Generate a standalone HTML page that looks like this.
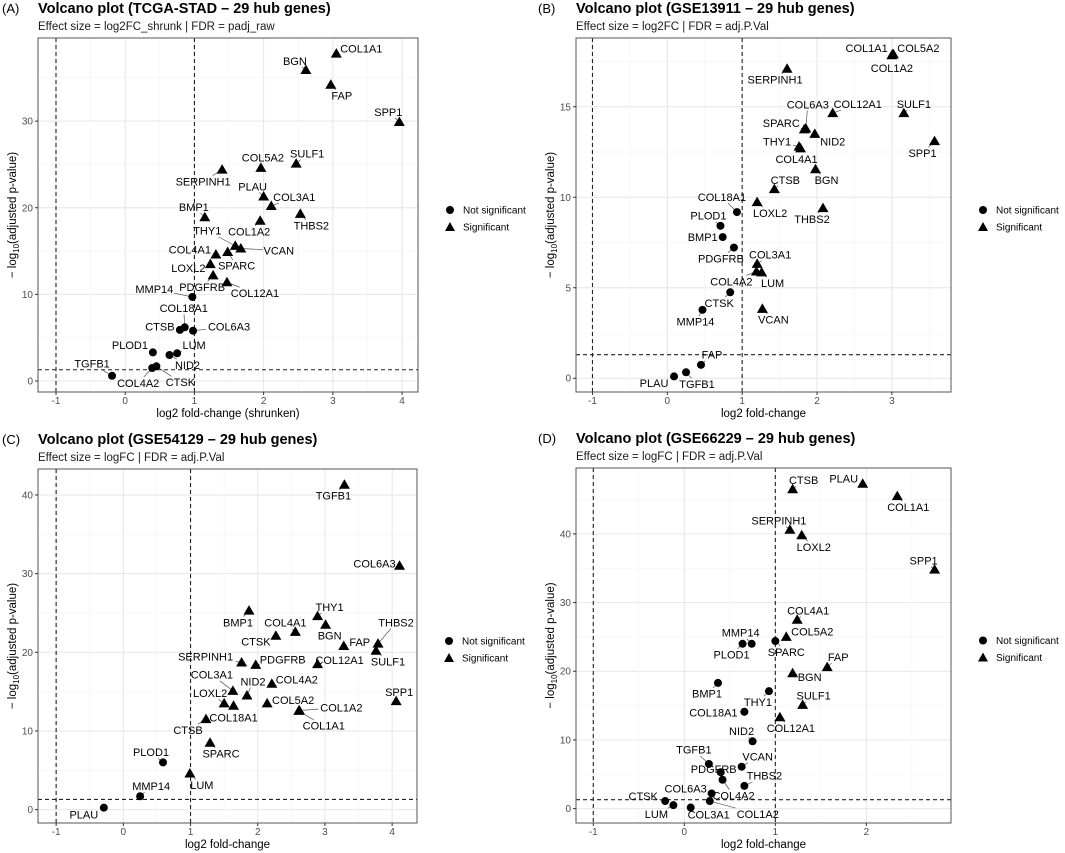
<!DOCTYPE html>
<html><head><meta charset="utf-8">
<style>
html,body{margin:0;padding:0;background:#fff;}
svg{display:block;font-family:"Liberation Sans",Arial,sans-serif;}
</style></head>
<body>
<svg id="chart" width="1065" height="853" viewBox="0 0 1065 853" xmlns="http://www.w3.org/2000/svg"></svg>
<script>
// ---------- Panel A data ----------
const genesA = ["COL1A1","BGN","FAP","SPP1","SULF1","COL5A2","SERPINH1","PLAU","COL3A1","BMP1","COL1A2","THBS2","THY1","VCAN","COL4A1","SPARC","LOXL2","PDGFRB","COL12A1","MMP14","COL18A1","CTSB","COL6A3","PLOD1","LUM","NID2","COL4A2","CTSK","TGFB1"];
const fcA = [3.05,2.61,2.97,3.96,2.47,1.96,1.40,2.00,2.11,1.15,1.95,2.53,1.59,1.67,1.31,1.48,1.23,1.27,1.47,0.97,0.86,0.79,0.98,0.40,0.75,0.64,0.39,0.45,-0.19];
const pA = [37.8,35.9,34.2,29.9,25.1,24.6,24.4,21.3,20.2,18.9,18.5,19.3,15.6,15.3,14.6,14.9,13.5,12.2,11.4,9.7,6.2,5.9,5.8,3.3,3.2,3.0,1.5,1.7,0.6];
const sigA = [1,1,1,1,1,1,1,1,1,1,1,1,1,1,1,1,1,1,1,0,0,0,0,0,0,0,0,0,0];
const labOffA = [[25,-5],[-11,-9],[11,11],[-11,-10],[11,-10],[2,-10],[-19,12],[-11,-10],[23,-9],[-11,-10],[-11,11],[11,12],[-28,-15],[38,2],[-26,-5],[9,14],[-22,4],[-11,12],[28,11],[-38,-8],[-1,-19],[-20,-3],[36,-4],[-23,-7],[17,-8],[18,10],[-14,15],[24,16],[-20,-12]];
const xTicksA = [-1,0,1,2,3,4];
const yTicksA = [0,10,20,30];

// ---------- Panel B data ----------
const genesB = ["COL1A1","COL5A2","COL1A2","SERPINH1","COL12A1","SULF1","COL6A3","SPARC","NID2","SPP1","THY1","COL4A1","BGN","CTSB","LOXL2","THBS2","COL18A1","PLOD1","BMP1","PDGFRB","COL3A1","COL4A2","LUM","CTSK","MMP14","VCAN","FAP","TGFB1","PLAU"];
const fcB = [3.01,3.02,3.00,1.60,2.21,3.16,1.85,1.83,1.97,3.57,1.76,1.78,1.98,1.43,1.20,2.08,0.93,0.71,0.74,0.89,1.20,1.19,1.26,0.84,0.47,1.27,0.45,0.25,0.09];
const pB = [17.9,17.9,17.85,17.1,14.65,14.65,13.8,13.75,13.5,13.1,12.8,12.7,11.55,10.45,9.73,9.4,9.18,8.42,7.8,7.22,6.32,5.9,5.85,4.75,3.78,3.83,0.74,0.33,0.1];
const sigB = [1,1,1,1,1,1,1,1,1,1,1,1,1,1,1,1,0,0,0,0,1,1,1,0,0,1,0,0,0];
const labOffB = [[-26,-6],[25,-6],[0,13],[-12,11],[25,-9],[10,-9],[2,-24],[-23,-6],[18,8],[-12,12],[-22,-5],[-4,11],[11,11],[11,-9],[13,11],[-11,11],[-15,-15],[-12,-10],[-20,0],[-13,11],[13,-9],[-25,10],[11,11],[-11,11],[-7,12],[11,11],[11,-10],[11,12],[-20,7]];
const xTicksB = [-1,0,1,2,3];
const yTicksB = [0,5,10,15];

// ---------- Panel C data ----------
const genesC = ["TGFB1","COL6A3","BMP1","THY1","BGN","COL4A1","CTSK","FAP","THBS2","SULF1","SERPINH1","PDGFRB","COL12A1","COL4A2","COL3A1","NID2","LOXL2","COL18A1","COL5A2","COL1A2","COL1A1","SPP1","CTSB","SPARC","PLOD1","LUM","MMP14","PLAU"];
const fcC = [3.29,4.11,1.87,2.89,3.01,2.56,2.27,3.28,3.79,3.76,1.76,1.97,2.89,2.21,1.63,1.84,1.50,1.64,2.14,2.62,2.61,4.06,1.23,1.29,0.59,0.99,0.25,-0.29];
const pC = [41.3,31.0,25.3,24.6,23.5,22.6,22.1,20.8,21.1,20.2,18.7,18.4,18.5,16.0,15.1,14.5,13.5,13.2,13.5,12.6,12.55,13.8,11.5,8.5,6.0,4.6,1.7,0.25];
const sigC = [1,1,1,1,1,1,1,1,1,1,1,1,1,1,1,1,1,1,1,1,1,1,1,1,0,1,0,0];
const labOffC = [[-11,11],[-25,-2],[-11,12],[12,-9],[4,11],[-10,-9],[-20,6],[16,-4],[18,-21],[12,11],[-36,-6],[27,-5],[22,-4],[25,-4],[-21,-16],[6,-14],[-14,-10],[0,12],[26,-3],[42,-3],[25,15],[3,-9],[-18,11],[11,11],[-12,-10],[12,12],[11,-10],[-20,7]];
const xTicksC = [-1,0,1,2,3,4];
const yTicksC = [0,10,20,30,40];

// ---------- Panel D data ----------
const genesD = ["PLAU","CTSB","COL1A1","SERPINH1","LOXL2","SPP1","COL4A1","COL5A2","SPARC","MMP14","PLOD1","FAP","BGN","BMP1","THY1","SULF1","COL18A1","COL12A1","NID2","VCAN","TGFB1","PDGFRB","COL4A2","THBS2","COL6A3","COL1A2","CTSK","LUM","COL3A1"];
const fcD = [1.96,1.19,2.34,1.16,1.29,2.75,1.24,1.12,1.00,0.74,0.64,1.57,1.19,0.37,0.93,1.30,0.66,1.05,0.75,0.63,0.27,0.40,0.42,0.66,0.30,0.28,-0.21,-0.12,0.07];
const pD = [47.3,46.5,45.5,40.6,39.8,34.8,27.5,25.0,24.4,24.0,24.0,20.6,19.7,18.3,17.1,15.1,14.1,13.3,9.8,6.1,6.5,5.3,4.2,3.3,2.2,1.1,1.1,0.5,0.15];
const sigD = [1,1,1,1,1,1,1,1,0,0,0,1,1,0,0,1,0,1,0,0,0,0,0,0,0,0,0,0,0];
const labOffD = [[-19,-5],[11,-9],[11,11],[-11,-9],[12,12],[-11,-9],[11,-9],[26,-5],[11,11],[-11,-11],[-11,11],[11,-10],[17,4],[-11,11],[-11,11],[11,-9],[-31,1],[11,11],[-11,-10],[16,-10],[-15,-14],[-7,-3],[11,16],[20,-10],[-26,-5],[48,13],[-22,-5],[-17,9],[18,7]];
const xTicksD = [-1,0,1,2];
const yTicksD = [0,10,20,30,40];

const svg = document.getElementById('chart');
const NS = 'http://www.w3.org/2000/svg';
function mk(tag, attrs, parent){
  const e = document.createElementNS(NS, tag);
  for (const k in attrs) e.setAttribute(k, attrs[k]);
  (parent||svg).appendChild(e);
  return e;
}

function drawPanel(cfg){
  const g = mk('g', {});
  
  
  const L = cfg.frame[0], R = cfg.frame[1], T = cfg.frame[2], B = cfg.frame[3];
  const sx = v => L + (v - cfg.xlim[0]) / (cfg.xlim[1] - cfg.xlim[0]) * (R - L);
  const sy = v => B - (v - cfg.ylim[0]) / (cfg.ylim[1] - cfg.ylim[0]) * (B - T);

  const tag = mk('text', {x: cfg.tagX, y: T - 25, 'font-size': 13, fill: '#000'}, g);
  tag.textContent = '(' + cfg.key.toUpperCase() + ')';
  
  
  const tt = mk('text', {x: L, y: T - 25, 'font-size': 14.5, 'font-weight': 'bold', fill: '#000'}, g);
  tt.textContent = cfg.title;
  
  
  const st = mk('text', {x: L, y: T - 8, 'font-size': 11.5, fill: '#1a1a1a'}, g);
  st.textContent = cfg.subtitle;
  
  

  const ystep = cfg.yTicks[1] - cfg.yTicks[0];
  for (let v = cfg.yTicks[0] - ystep/2; v <= cfg.ylim[1]; v += ystep/2) {
    if (v < cfg.ylim[0]) continue;
    const major = Math.abs(Math.round(v/ystep)*ystep - v) < 1e-6;
    const ln = mk('line', {x1: L, x2: R, y1: sy(v), y2: sy(v), stroke: major ? '#e6e6e6' : '#f3f3f3', 'stroke-width': major ? 1 : 0.6}, g);
    
    
  }
  for (let v = cfg.xTicks[0] - 0.5; v <= cfg.xlim[1]; v += 0.5) {
    if (v < cfg.xlim[0]) continue;
    const major = Math.abs(Math.round(v) - v) < 1e-6;
    const ln = mk('line', {x1: sx(v), x2: sx(v), y1: T, y2: B, stroke: major ? '#e6e6e6' : '#f3f3f3', 'stroke-width': major ? 1 : 0.6}, g);
    
    
  }
  [-1, 1].forEach(v => {
    const ln = mk('line', {x1: sx(v), x2: sx(v), y1: T, y2: B, stroke: '#222', 'stroke-width': 1.1, 'stroke-dasharray': '4,3'}, g);
    
    
  });
  const hl = mk('line', {x1: L, x2: R, y1: sy(1.3), y2: sy(1.3), stroke: '#222', 'stroke-width': 1.1, 'stroke-dasharray': '4,3'}, g);
  
  

  for (let i = 0; i < cfg.genes.length; i++) {
    const px = sx(cfg.fc[i]), py = sy(cfg.p[i]);
    const ox = cfg.off[i][0], oy = cfg.off[i][1];
    const d = Math.hypot(ox, oy);
    if (d > 13) {
      const w = cfg.genes[i].length * 3.5 + 2, h = 6;
      const f = Math.max(0, 1 - Math.min(Math.abs(ox) > 0 ? w/Math.abs(ox) : 9, Math.abs(oy) > 0 ? h/Math.abs(oy) : 9));
      const seg = mk('line', {x1: px, y1: py, x2: px + ox*f, y2: py + oy*f, stroke: '#555', 'stroke-width': 0.7}, g);
      
      
    }
  }
  for (let i = 0; i < cfg.genes.length; i++) {
    const px = sx(cfg.fc[i]), py = sy(cfg.p[i]);
    let m;
    if (cfg.sig[i]) {
      m = mk('polygon', {points: `${px},${py-5.5} ${px+5.5},${py+4} ${px-5.5},${py+4}`, fill: '#000'}, g);
    } else {
      m = mk('circle', {cx: px, cy: py, r: 4, fill: '#000'}, g);
    }
    
    
  }
  for (let i = 0; i < cfg.genes.length; i++) {
    const px = sx(cfg.fc[i]), py = sy(cfg.p[i]);
    const t = mk('text', {x: px + cfg.off[i][0], y: py + cfg.off[i][1] + 3.8, 'font-size': 11, 'text-anchor': 'middle', fill: '#000'}, g);
    t.textContent = cfg.genes[i];
    
    
  }

  const fr = mk('rect', {x: L, y: T, width: R - L, height: B - T, fill: 'none', stroke: '#555', 'stroke-width': 1}, g);
  
  

  cfg.xTicks.forEach(v => {
    const tk = mk('line', {x1: sx(v), x2: sx(v), y1: B, y2: B + 3, stroke: '#333'}, g);
    
    
    const tl = mk('text', {x: sx(v), y: B + 12, 'font-size': 10, fill: '#4d4d4d', 'text-anchor': 'middle'}, g);
    tl.textContent = v;
    
    
  });
  cfg.yTicks.forEach(v => {
    const tk = mk('line', {x1: L - 3, x2: L, y1: sy(v), y2: sy(v), stroke: '#333'}, g);
    
    
    const tl = mk('text', {x: L - 5, y: sy(v) + 3.5, 'font-size': 10, fill: '#4d4d4d', 'text-anchor': 'end'}, g);
    tl.textContent = v;
    
    
  });
  const xt = mk('text', {x: (L + R)/2, y: B + 25, 'font-size': 11.5, fill: '#000', 'text-anchor': 'middle'}, g);
  xt.textContent = cfg.xTitle;
  
  
  const yc = (T + B)/2, yx = L - 22;
  const yt = mk('text', {x: 0, y: 0, 'font-size': 11.5, fill: '#000', 'text-anchor': 'middle', transform: `translate(${yx},${yc}) rotate(-90)`}, g);
  
  
  const t1 = mk('tspan', {}, yt); t1.textContent = '\u2212 log';
  const t2 = mk('tspan', {'font-size': 8, dy: 3}, yt); t2.textContent = '10';
  const t3 = mk('tspan', {dy: -3}, yt); t3.textContent = '(adjusted p-value)';

  const lx = R + 32, ly = (T + B)/2 + 3;
  const lg = mk('g', {}, g);
  
  
  const c = mk('circle', {cx: lx, cy: ly - 8, r: 4, fill: '#000'}, lg);
  
  
  const l1 = mk('text', {x: lx + 13, y: ly - 4.5, 'font-size': 10, fill: '#000'}, lg);
  l1.textContent = 'Not significant';
  
  
  const tri = mk('polygon', {points: `${lx},${ly+4} ${lx+5},${ly+13} ${lx-5},${ly+13}`, fill: '#000'}, lg);
  
  
  const l2 = mk('text', {x: lx + 13, y: ly + 12.5, 'font-size': 10, fill: '#000'}, lg);
  l2.textContent = 'Significant';
  
  
}

drawPanel({key:'a', tagX:2, title:'Volcano plot (TCGA-STAD \u2013 29 hub genes)', subtitle:'Effect size = log2FC_shrunk | FDR = padj_raw',
  frame:[38,418,38,392], xlim:[-1.26,4.23], ylim:[-1.27,39.6], xTicks:xTicksA, yTicks:yTicksA,
  genes:genesA, fc:fcA, p:pA, sig:sigA, off:labOffA, xTitle:'log2 fold-change (shrunken)'});
drawPanel({key:'b', tagX:538, title:'Volcano plot (GSE13911 \u2013 29 hub genes)', subtitle:'Effect size = log2FC | FDR = adj.P.Val',
  frame:[576,951,38,392], xlim:[-1.22,3.79], ylim:[-0.76,18.8], xTicks:xTicksB, yTicks:yTicksB,
  genes:genesB, fc:fcB, p:pB, sig:sigB, off:labOffB, xTitle:'log2 fold-change'});
drawPanel({key:'c', tagX:2, title:'Volcano plot (GSE54129 \u2013 29 hub genes)', subtitle:'Effect size = logFC | FDR = adj.P.Val',
  frame:[38,417,469,823], xlim:[-1.27,4.37], ylim:[-1.7,43.3], xTicks:xTicksC, yTicks:yTicksC,
  genes:genesC, fc:fcC, p:pC, sig:sigC, off:labOffC, xTitle:'log2 fold-change'});
drawPanel({key:'d', tagX:538, title:'Volcano plot (GSE66229 \u2013 29 hub genes)', subtitle:'Effect size = logFC | FDR = adj.P.Val',
  frame:[576,951,468,823], xlim:[-1.19,2.93], ylim:[-2.1,49.6], xTicks:xTicksD, yTicks:yTicksD,
  genes:genesD, fc:fcD, p:pD, sig:sigD, off:labOffD, xTitle:'log2 fold-change'});
</script>
</body></html>
